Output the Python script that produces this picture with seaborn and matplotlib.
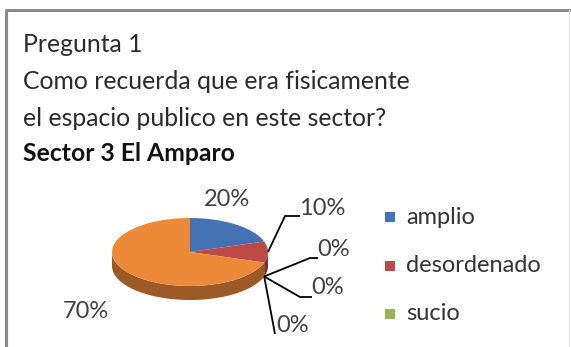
import numpy as np
import matplotlib
matplotlib.use("Agg")
import matplotlib.pyplot as plt
import matplotlib.colors as mcolors
from matplotlib.patches import Polygon, Rectangle
import seaborn as sns

# --- data -------------------------------------------------------------
values = [20, 10, 0, 0, 0, 70]
legend_labels = ["amplio", "desordenado", "sucio"]
title_lines = ["Pregunta 1",
               "Como recuerda que era fisicamente",
               "el espacio publico en este sector?"]
subtitle = "Sector 3 El Amparo"
palette = ["#4472B4", "#BE4A47", "#95B653", "#7A5E9E", "#45A7C2", "#EC8A3A"]

# --- style ------------------------------------------------------------
sns.set_theme(style="white")
plt.rcParams["font.family"] = ["Lato", "DejaVu Sans"]

W, H = 571, 347
fig = plt.figure(figsize=(W / 100, H / 100), dpi=100)
fig.patch.set_facecolor("white")

# overlay axes in pixel units (y downwards) for frame, titles and leaders
ov = fig.add_axes([0, 0, 1, 1])
ov.set_xlim(0, W)
ov.set_ylim(H, 0)
ov.axis("off")
ov.set_zorder(3)
ov.patch.set_alpha(0)

# chart frame
ov.plot([6, 6], [10, H], color="#8a8a8a", lw=2.2, solid_capstyle="butt")
ov.plot([5, W], [10, 10], color="#8a8a8a", lw=2.2, solid_capstyle="butt")
ov.plot([569, 569], [10, H], color="#e4e4e4", lw=1)

# titles
fs_title = 17.8
ys = [52, 89, 126]
for y, t in zip(ys, title_lines):
    ov.text(23, y, t, fontsize=fs_title, color="#2b2b2b", va="baseline")
ov.text(23, 161, subtitle, fontsize=fs_title, color="#111111",
        fontweight="bold", va="baseline")

# --- tilted pie -------------------------------------------------------
cx, cy, rx, ry, depth = 190, 252, 78, 34, 14
d = depth / ry
px_left, px_top = cx - rx, cy - ry
px_w, px_h = 2 * rx, 2 * ry + depth
axp = fig.add_axes([px_left / W, 1 - (px_top + px_h) / H, px_w / W, px_h / H])
wedges, _ = axp.pie(values, colors=palette, startangle=90, counterclock=False,
                    radius=1, center=(0, 0),
                    wedgeprops=dict(linewidth=0, zorder=2))
axp.set_aspect("auto")
axp.set_xlim(-1, 1)
axp.set_ylim(-1 - d, 1)
axp.axis("off")


def shade(c, f):
    r, g, b = mcolors.to_rgb(c)
    return (r * f, g * f, b * f)


# side wall: front half (180..360 deg) of each wedge
for w, c in zip(wedges, palette):
    if abs(w.theta2 - w.theta1) < 1e-9:
        continue
    a, b = w.theta1, w.theta2
    for k in (-360, 0, 360):
        lo, hi = max(a + k, 180), min(b + k, 360)
        if hi <= lo:
            continue
        th = np.radians(np.linspace(lo, hi, 60))
        top = np.column_stack([np.cos(th), np.sin(th)])
        bot = np.column_stack([np.cos(th[::-1]), np.sin(th[::-1]) - d])
        axp.add_patch(Polygon(np.vstack([top, bot]), closed=True,
                              facecolor=shade(c, 0.66), edgecolor="none",
                              zorder=1))

# --- data labels with leader lines ------------------------------------
def to_px(x, y):
    disp = axp.transData.transform((x, y))
    return ov.transData.inverted().transform(disp)


mids = [np.radians((w.theta1 + w.theta2) / 2) for w in wedges]
lab_color = "#404040"
fs_lab = 17

# 20% and 70% sit next to their wedges without leaders
ov.text(227, 199, f"{values[0]}%", fontsize=fs_lab, color=lab_color,
        ha="center", va="center")
ov.text(86, 311, f"{values[5]}%", fontsize=fs_lab, color=lab_color,
        ha="center", va="center")

# leader-line labels: (elbow, end of line, text position)
leaders = [
    (1, (285, 216), (300, 216), (299, 208)),
    (2, (310, 258), (318, 258), (317, 249)),
    (3, (300, 297), (312, 297), (311, 288)),
    (4, (275, 334), (275, 334), (276, 325)),
]
for idx, elbow, end, tpos in leaders:
    m = mids[idx]
    if idx == 1:
        ax_, ay_ = to_px(np.cos(m), np.sin(m))
    else:
        ax_, ay_ = to_px(np.cos(m), np.sin(m) - d)
    ov.plot([ax_, elbow[0], end[0]], [ay_, elbow[1], end[1]],
            color="black", lw=1.3, solid_capstyle="butt")
    ov.text(tpos[0], tpos[1], f"{values[idx]}%", fontsize=fs_lab,
            color=lab_color, ha="left", va="center")

# --- legend (first three categories) ---------------------------------
leg_y = [217, 266, 314]
for y, lab, c in zip(leg_y, legend_labels, palette):
    ov.add_patch(Rectangle((385, y - 5), 10, 10, facecolor=c, edgecolor="none"))
    ov.text(406, y, lab, fontsize=17, color="#333333", va="center")

fig.savefig("out.png", dpi=100, facecolor="white")
